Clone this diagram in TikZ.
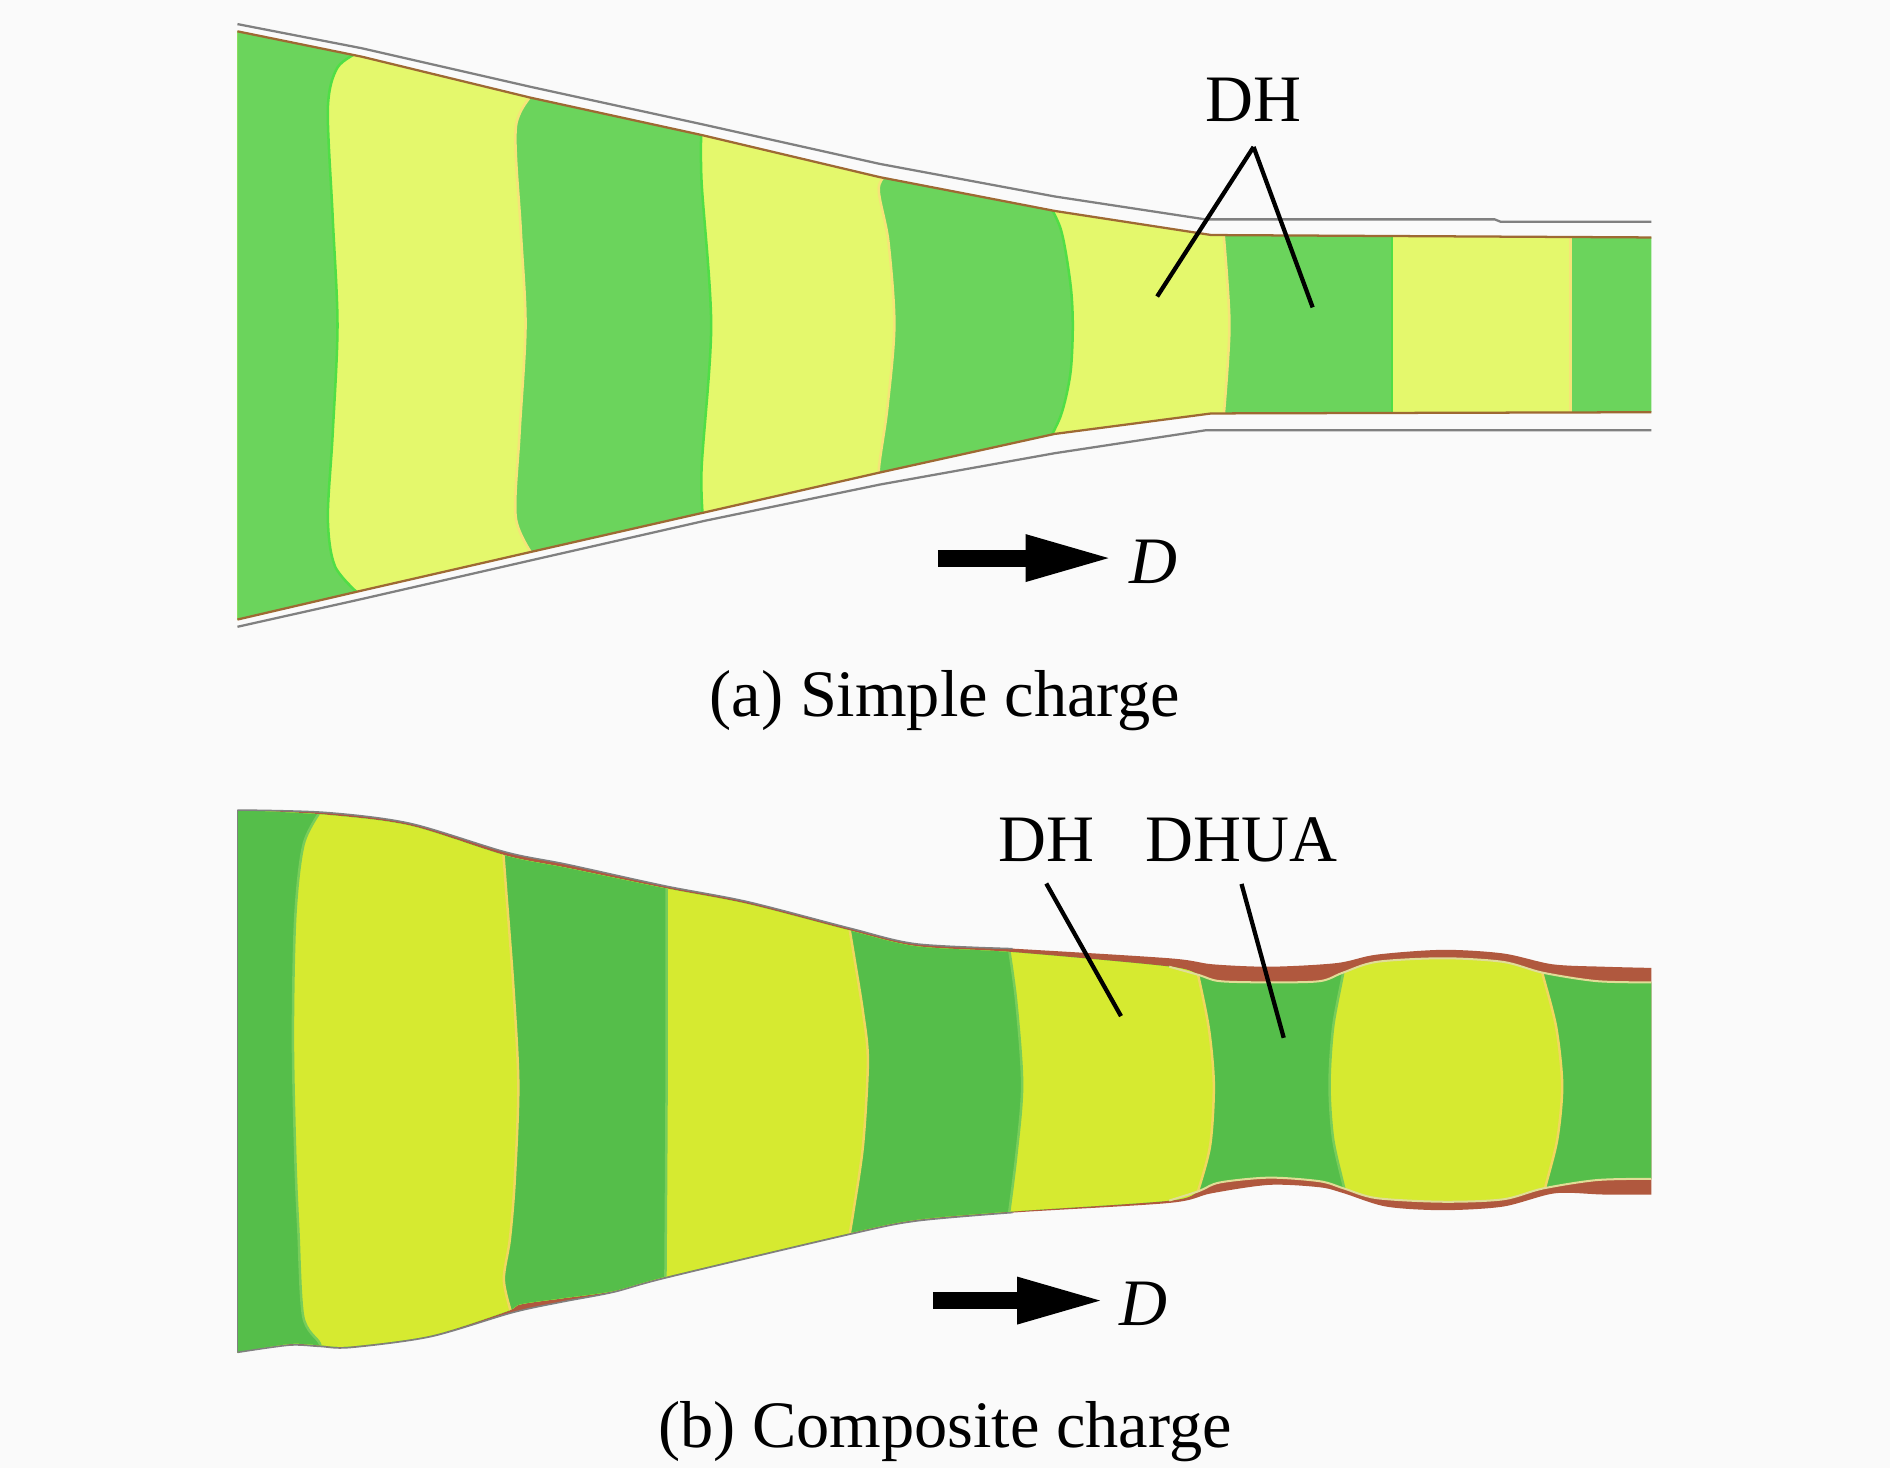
\documentclass[tikz,border=0pt]{standalone}
\usepackage{fontspec}
\setmainfont{Liberation Serif}
\usetikzlibrary{arrows.meta}
\begin{document}
\begin{tikzpicture}
  [x=0.024cm,y=-0.024cm,
  txt/.style={font=\fontsize{37.6}{40}\selectfont,inner sep=0pt},
  txtit/.style={font=\fontsize{37.6}{40}\selectfont\itshape,inner sep=0pt},
  leader/.style={black,line width=0.85mm},
  bigarrow/.style={black,line width=0.34cm,-{Triangle[length=1.78cm,width=0.84cm]}},
  wall/.style={gray,line width=0.45mm},
  wallin/.style={black!30!orange!60!gray,line width=0.45mm},
  pale/.style={yellow!55!gray!60!white,line width=0.4mm},
  greenA/.style={fill={rgb,255:red,107;green,212;blue,92},draw={rgb,255:red,80;green,222;blue,70},line width=0.5mm},
  yellowA/.style={fill={rgb,255:red,228;green,248;blue,108},draw={rgb,255:red,245;green,228;blue,120},line width=0.5mm},
  greenB/.style={fill={rgb,255:red,85;green,190;blue,74},draw={rgb,255:red,120;green,205;blue,90},line width=0.5mm},
  yellowB/.style={fill={rgb,255:red,214;green,234;blue,48},draw={rgb,255:red,240;green,215;blue,95},line width=0.5mm},
  brownB/.style={fill={rgb,255:red,176;green,88;blue,62}}]

  \fill[black!2] (0,0) rectangle (1568,1217.9);

  \begin{scope}
    \clip (197,26) -- (300,47) -- (440,81) -- (582,112) -- (730,147) -- (875,175) -- (1005,195) -- (1370,197)
      -- (1370,342) -- (1005,343) -- (875,360) -- (730,392) -- (585,425) -- (440,458) -- (300,490) -- (197,514) -- cycle;
    \fill[greenA] (150,0) rectangle (1400,600);
    \filldraw[yellowA] (1303,0) -- (1303,600) -- (150,600) -- (150,0) -- cycle;
    \filldraw[greenA] (1155,0) -- (1155,600) -- (150,600) -- (150,0) -- cycle;
    \filldraw[yellowA] plot[smooth] coordinates {(1014,180) (1018,230) (1020,270) (1018,310) (1014,360)} -- (150,600) -- (150,0) -- cycle;
    \filldraw[greenA] plot[smooth] coordinates {(865,160) (880,190) (888,235) (890,270) (888,310) (880,345) (865,375)} -- (150,600) -- (150,0) -- cycle;
    \filldraw[yellowA] plot[smooth] coordinates {(740,140) (729,156) (737,200) (742,270) (736,340) (729,392) (735,410)} -- (150,600) -- (150,0) -- cycle;
    \filldraw[greenA] plot[smooth] coordinates {(582,100) (582,150) (590,270) (582,390) (584,440)} -- (150,600) -- (150,0) -- cycle;
    \filldraw[yellowA] plot[smooth] coordinates {(445,75) (428,105) (432,190) (436,270) (431,360) (428,430) (445,465)} -- (150,600) -- (150,0) -- cycle;
    \filldraw[greenA] plot[smooth] coordinates {(300,42) (280,56) (272,90) (276,180) (280,270) (276,360) (272,430) (278,470) (300,495)} -- (150,600) -- (150,0) -- cycle;
  \end{scope}

  \draw[wallin] (197,26) -- (300,47) -- (440,81) -- (582,112) -- (730,147) -- (875,175) -- (1005,195) -- (1370,197);
  \draw[wallin] (197,514) -- (300,490) -- (440,458) -- (585,425) -- (730,392) -- (875,360) -- (1005,343) -- (1370,342);
  \draw[wall] (197,20) -- (300,40) -- (440,72) -- (582,103) -- (730,136) -- (875,163) -- (1000,182) -- (1240,182) -- (1245,184) -- (1370,184);
  \draw[wall] (197,520) -- (300,497) -- (440,465) -- (585,432) -- (730,402) -- (875,376) -- (1000,357) -- (1370,357);

  \begin{scope}
    \clip plot[smooth] coordinates {(197,672) (270,674) (340,683) (420,707) (470,717) (552,735) (620,748) (705,770) (760,783) (840,787) (970,795) (1006,800) (1054,802) (1109,799) (1142,792) (1197,788) (1247,791) (1288,800) (1330,802) (1370,803)}
      -- plot[smooth] coordinates {(1370,991) (1330,991) (1290,990) (1247,1001) (1197,1004) (1150,1001) (1115,990) (1095,985) (1053,983) (1005,990) (970,998) (840,1006) (760,1013) (705,1024) (553,1060) (509,1072) (467,1080) (425,1089) (357,1109) (290,1118) (265,1117) (240,1116) (197,1122)} -- cycle;
    \fill[brownB] (150,600) rectangle (1400,1200);
    \clip plot[smooth] coordinates {(197,672) (270,676) (340,685) (420,710) (470,720) (552,737) (620,750) (705,772) (760,785) (840,790) (970,802) (995,809) (1012,814) (1054,815) (1095,814) (1114,807) (1142,798) (1197,795) (1247,798) (1280,807) (1325,814) (1370,815)}
      -- plot[smooth] coordinates {(1370,978) (1325,979) (1280,986) (1247,995) (1197,997) (1142,994) (1115,986) (1095,980) (1053,977) (1012,981) (995,988) (970,996) (840,1005) (760,1012) (705,1023) (553,1059) (509,1071) (467,1077) (432,1082) (420,1088) (357,1108) (290,1117) (265,1116) (240,1115) (197,1122)} -- cycle;
    \fill[greenB] (150,600) rectangle (1400,1200);
    \filldraw[yellowB] plot[smooth] coordinates {(1277,795) (1280,809) (1291,852) (1296,900) (1292,945) (1282,985) (1278,1005)} -- (150,1200) -- (150,600) -- cycle;
    \filldraw[greenB] plot[smooth] coordinates {(1116,795) (1114,809) (1106,852) (1103,900) (1106,945) (1115,985) (1118,1000)} -- (150,1200) -- (150,600) -- cycle;
    \filldraw[yellowB] plot[smooth] coordinates {(990,795) (994,809) (1003,854) (1007,900) (1004,950) (994,988) (990,1000)} -- (150,1200) -- (150,600) -- cycle;
    \filldraw[greenB] plot[smooth] coordinates {(836,780) (843,830) (848,900) (843,960) (836,1015)} -- (150,1200) -- (150,600) -- cycle;
    \filldraw[yellowB] plot[smooth] coordinates {(703,760) (708,790) (716,840) (720,880) (716,950) (708,1005) (703,1035)} -- (150,1200) -- (150,600) -- cycle;
    \filldraw[greenB] plot[smooth] coordinates {(553,725) (553,900) (552,1070)} -- (150,1200) -- (150,600) -- cycle;
    \filldraw[yellowB] plot[smooth] coordinates {(417,700) (420,740) (426,820) (430,900) (427,980) (423,1028) (418,1062) (425,1092)} -- (150,1200) -- (150,600) -- cycle;
    \filldraw[greenB] plot[smooth] coordinates {(268,670) (252,700) (245,760) (243,860) (245,960) (247.5,1020) (251.5,1092) (265,1114) (268,1125)} -- (150,1200) -- (150,600) -- cycle;
  \end{scope}

  \draw[pale] plot[smooth] coordinates {(970,802) (995,809) (1012,814) (1054,815) (1095,814) (1114,807) (1142,798) (1197,795) (1247,798) (1280,807) (1325,814) (1370,815)};
  \draw[pale] plot[smooth] coordinates {(1370,978) (1325,979) (1280,986) (1247,995) (1197,997) (1142,994) (1115,986) (1095,980) (1053,977) (1012,981) (995,988) (970,996)};
  \draw[gray,line width=0.3mm] plot[smooth] coordinates {(197,672) (270,674) (340,683) (420,707) (470,717) (552,735) (620,748) (705,770) (760,783) (840,787)};
  \draw[gray,line width=0.3mm] plot[smooth] coordinates {(840,1006) (760,1013) (705,1024) (553,1060) (509,1072) (467,1080) (425,1089) (357,1109) (290,1118) (265,1117) (240,1116) (197,1122)};
  \draw[gray,line width=0.3mm] (197,672) -- (197,1122);

  \node[txt,outer ysep=0.5cm] (dhA) at (1040,83) {DH};
  \coordinate (dhAl) at (960,246);
  \coordinate (dhAr) at (1089,255);
  \draw[leader] (dhA.south) -- (dhAl);
  \draw[leader] (dhA.south) -- (dhAr);

  \node[txt,outer ysep=0.43cm] (dhB) at (868,697) {DH};
  \node[txt,outer ysep=0.43cm] (dhuaB) at (1030,697) {DHUA};
  \coordinate (dhBe) at (930,843);
  \coordinate (dhuaBe) at (1065,861);
  \draw[leader] (dhB.south) -- (dhBe);
  \draw[leader] (dhuaB.south) -- (dhuaBe);

  \coordinate (arrowAs) at (778,463);
  \coordinate (arrowAe) at (925,463);
  \draw[bigarrow] (arrowAs) -- (arrowAe);
  \node[txtit] (dA) at (957,466) {D};

  \coordinate (arrowBs) at (774,1079);
  \coordinate (arrowBe) at (918,1079);
  \draw[bigarrow] (arrowBs) -- (arrowBe);
  \node[txtit] (dB) at (949,1082) {D};

  \node[txt] (capA) at (784,581) {(a) Simple charge};
  \node[txt] (capB) at (784,1188) {(b) Composite charge};

  \useasboundingbox (0,0) rectangle (1568,1217.9);
\end{tikzpicture}
\end{document}
